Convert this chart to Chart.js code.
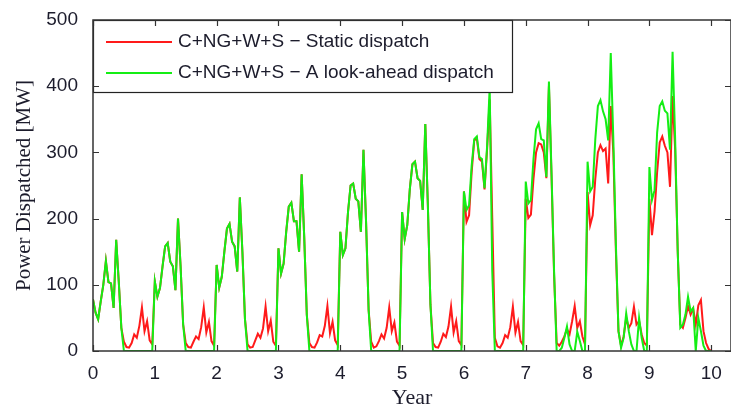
<!DOCTYPE html>
<html>
<head>
<meta charset="utf-8">
<script src="https://cdn.jsdelivr.net/npm/chart.js@4.4.1/dist/chart.umd.min.js"></script>
<style>
  html, body { margin: 0; padding: 0; background: #fff; }
</style>
</head>
<body>
<canvas id="dispatchChart" width="731" height="411"></canvas>
<script>
// samples per year (half-monthly steps)
const samplesPerYear = 24;

const seriesLabels = ['C+NG+W+S \u2212 Static dispatch', 'C+NG+W+S \u2212 A look-ahead dispatch'];

// C+NG+W+S - static dispatch [MW], one row per year
const staticMW = [
  78, 58, 48, 75, 100, 136, 104, 102, 65, 168, 105, 35, 14, 6, 5, 12, 25, 20, 38, 66, 30, 45, 16, 10,
  105, 82, 95, 128, 158, 163, 135, 128, 92, 200, 128, 40, 12, 6, 5, 14, 22, 18, 36, 66, 28, 44, 15, 8,
  130, 96, 112, 150, 185, 192, 165, 158, 120, 232, 150, 48, 10, 5, 6, 16, 26, 20, 34, 67, 30, 46, 14, 8,
  155, 117, 132, 180, 218, 224, 196, 196, 150, 267, 172, 55, 12, 6, 5, 13, 24, 22, 38, 68, 27, 44, 16, 9,
  180, 145, 155, 210, 250, 253, 230, 226, 180, 304, 196, 62, 14, 5, 7, 15, 25, 19, 35, 66, 30, 43, 14, 8,
  210, 169, 190, 245, 282, 286, 261, 257, 213, 343, 220, 70, 12, 6, 5, 14, 26, 21, 37, 67, 28, 45, 15, 9,
  241, 195, 205, 270, 318, 322, 290, 286, 244, 305, 380, 200, 20, 7, 5, 12, 24, 20, 36, 67, 28, 44, 15, 9,
  230, 201, 206, 260, 300, 314, 312, 300, 261, 400, 265, 115, 12, 8, 14, 22, 33, 25, 45, 68, 35, 45, 22, 10,
  240, 190, 205, 260, 300, 311, 302, 306, 253, 370, 300, 150, 30, 8, 22, 50, 35, 42, 67, 40, 45, 25, 12, 8,
  230, 175, 211, 270, 315, 324, 310, 300, 248, 385, 304, 150, 40, 35, 50, 68, 55, 64, 40, 69, 77, 30, 12, 3,
  0
];

// C+NG+W+S - look-ahead dispatch [MW]
const lookAheadMW = [
  78, 58, 48, 75, 100, 136, 104, 102, 65, 168, 105, 35, 0, 0, 0, 0, 0, 0, 0, 0, 0, 0, 0, 0,
  105, 82, 95, 128, 158, 163, 135, 128, 92, 200, 128, 40, 0, 0, 0, 0, 0, 0, 0, 0, 0, 0, 0, 0,
  130, 96, 112, 150, 185, 192, 165, 158, 120, 232, 150, 48, 0, 0, 0, 0, 0, 0, 0, 0, 0, 0, 0, 0,
  155, 117, 132, 180, 218, 224, 196, 196, 150, 267, 172, 55, 0, 0, 0, 0, 0, 0, 0, 0, 0, 0, 0, 0,
  180, 145, 155, 210, 250, 253, 230, 226, 180, 304, 196, 62, 0, 0, 0, 0, 0, 0, 0, 0, 0, 0, 0, 0,
  210, 169, 190, 245, 282, 286, 261, 257, 213, 343, 220, 70, 0, 0, 0, 0, 0, 0, 0, 0, 0, 0, 0, 0,
  241, 213, 220, 280, 320, 324, 293, 290, 246, 310, 398, 120, 0, 0, 0, 0, 0, 0, 0, 0, 0, 0, 0, 0,
  256, 223, 228, 290, 335, 344, 320, 318, 263, 407, 270, 120, 0, 0, 5, 20, 37, 10, 0, 0, 29, 15, 0, 0,
  286, 241, 248, 320, 370, 379, 362, 350, 318, 450, 320, 160, 30, 5, 20, 57, 30, 10, 0, 0, 50, 20, 0, 0,
  278, 228, 243, 330, 370, 377, 363, 359, 304, 452, 320, 150, 35, 40, 55, 82, 60, 65, 0, 50, 30, 8, 0, 0,
  0
];

const xTicks = [0, 1, 2, 3, 4, 5, 6, 7, 8, 9, 10];
const yTicks = [0, 100, 200, 300, 400, 500];

const toPoints = arr => arr.map((v, i) => ({ x: i / samplesPerYear, y: v }));

const textColor = '#1c1c2c';

// MATLAB style box, inward ticks and the boxed legend
const framePlugin = {
  id: 'frame',
  afterDatasetsDraw(chart) {
    const { ctx, chartArea: a, scales: { x, y } } = chart;
    ctx.save();

    // legend
    const lx = a.left, ly = a.top, lw = 419, lh = 72;
    ctx.fillStyle = '#fff';
    ctx.fillRect(lx, ly, lw, lh);
    ctx.strokeStyle = '#222';
    ctx.lineWidth = 1.2;
    ctx.strokeRect(lx + 0.5, ly + 0.5, lw, lh);
    ctx.font = '19px "Liberation Sans", Arial, sans-serif';
    ctx.textBaseline = 'middle';
    [0, 1].forEach(i => {
      const ds = chart.data.datasets.find(d => d.label === seriesLabels[i]);
      const rowY = ly + 22 + i * 31;
      ctx.strokeStyle = ds.borderColor;
      ctx.lineWidth = 1.8;
      ctx.beginPath();
      ctx.moveTo(lx + 13, rowY);
      ctx.lineTo(lx + 79, rowY);
      ctx.stroke();
      ctx.fillStyle = textColor;
      ctx.fillText(ds.label, lx + 85, rowY);
    });

    // axes box
    ctx.strokeStyle = '#333';
    ctx.lineWidth = 1.5;
    ctx.strokeRect(a.left, a.top, a.right - a.left, a.bottom - a.top);

    // inward ticks
    ctx.lineWidth = 1.2;
    ctx.beginPath();
    xTicks.forEach(v => {
      const px = Math.round(x.getPixelForValue(v)) + 0.5;
      ctx.moveTo(px, a.bottom); ctx.lineTo(px, a.bottom - 6);
      ctx.moveTo(px, a.top); ctx.lineTo(px, a.top + 6);
    });
    yTicks.forEach(v => {
      const py = Math.round(y.getPixelForValue(v)) + 0.5;
      ctx.moveTo(a.left, py); ctx.lineTo(a.left + 6, py);
      ctx.moveTo(a.right, py); ctx.lineTo(a.right - 6, py);
    });
    ctx.stroke();
    ctx.restore();
  }
};

new Chart(document.getElementById('dispatchChart'), {
  type: 'line',
  data: {
    datasets: [
      {
        label: seriesLabels[1],
        data: toPoints(lookAheadMW),
        borderColor: '#14ee14',
        borderWidth: 2,
        pointRadius: 0,
        tension: 0,
        order: 0
      },
      {
        label: seriesLabels[0],
        data: toPoints(staticMW),
        borderColor: '#ff1a1a',
        borderWidth: 2,
        pointRadius: 0,
        tension: 0,
        order: 1
      }
    ]
  },
  options: {
    responsive: false,
    animation: false,
    devicePixelRatio: 1,
    layout: { padding: { top: 20, right: 0, left: 0, bottom: 0 } },
    plugins: {
      legend: { display: false },
      tooltip: { enabled: false }
    },
    scales: {
      x: {
        type: 'linear',
        min: 0,
        max: 10.32,
        afterBuildTicks: s => { s.ticks = xTicks.map(v => ({ value: v })); },
        afterFit: s => { s.height = 60; },
        grid: { display: false },
        border: { display: false },
        ticks: {
          color: textColor,
          padding: 3,
          maxRotation: 0,
          font: { family: '"Liberation Sans", Arial, sans-serif', size: 19 }
        },
        title: {
          display: true,
          text: 'Year',
          color: textColor,
          padding: { top: 0, bottom: 0 },
          font: { family: '"Liberation Serif", "Times New Roman", serif', size: 22 }
        }
      },
      y: {
        min: 0,
        max: 500,
        afterBuildTicks: s => { s.ticks = yTicks.map(v => ({ value: v })); },
        afterFit: s => { s.width = 93; },
        grid: { display: false },
        border: { display: false },
        ticks: {
          color: textColor,
          padding: 7,
          font: { family: '"Liberation Sans", Arial, sans-serif', size: 19 }
        },
        title: {
          display: true,
          text: 'Power Dispatched [MW]',
          color: textColor,
          padding: { top: 12, bottom: 0 },
          font: { family: '"Liberation Serif", "Times New Roman", serif', size: 21 }
        }
      }
    }
  },
  plugins: [framePlugin]
});
</script>
</body>
</html>
